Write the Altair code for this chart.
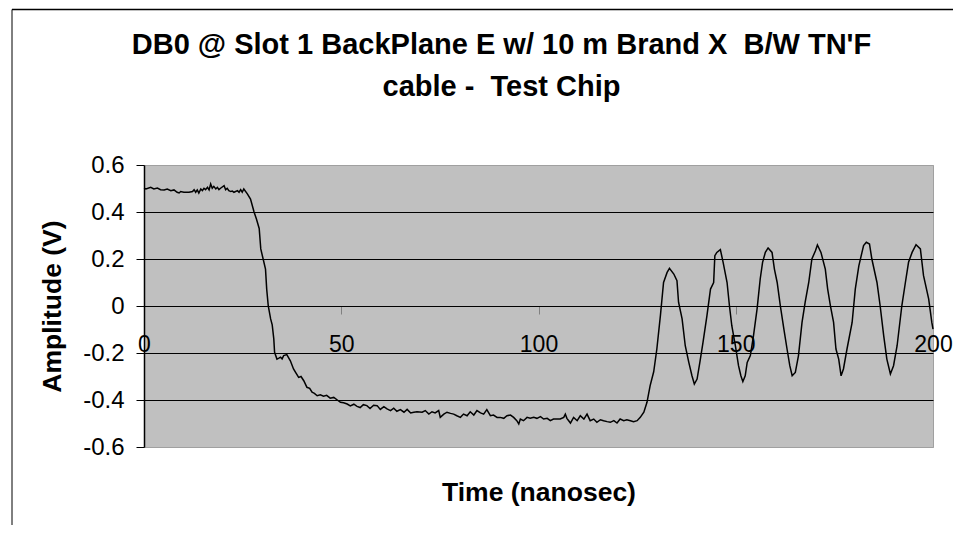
import altair as alt
import pandas as pd

# Time (ns) and amplitude (V)
time_ns = [
    0, 0.5, 1.7, 2.5, 3.4, 4.2, 5.1, 5.9, 6.8, 7.6, 8.4, 8.9, 9.3, 10.1, 11.4, 12.3, 12.7,
    13.1, 13.5, 13.9, 14.4, 14.8, 15.2, 15.6, 16.1, 16.5, 16.9, 17.3, 17.7, 18.2, 18.6,
    19.0, 19.4, 20.3, 20.7, 21.1, 21.5, 22.0, 22.4, 22.8, 23.7, 24.1, 24.5, 24.9, 25.3,
    26.2, 27.0, 27.9, 28.5, 29.2, 29.6, 30.2, 30.8, 31.1, 31.5, 32.1, 32.5, 32.9, 33.1,
    33.7, 34.2, 34.6, 35.0, 35.4, 36.2, 37.1, 37.9, 38.5, 39.2, 39.8, 40.5, 41.3, 42.0,
    42.6, 43.2, 43.9, 44.7, 45.5, 46.3, 47.2, 48.1, 49.0, 49.8, 50.6, 51.5, 52.3, 53.2,
    54.0, 54.8, 55.6, 56.5, 57.3, 58.2, 59.1, 59.9, 60.8, 61.6, 62.5, 63.3, 64.1, 65.0,
    65.9, 66.7, 67.6, 68.4,
    69.2, 70.5, 71.3, 72.2, 73.0, 73.8, 74.7, 75.1, 76.0, 76.8, 77.7, 78.5, 79.3, 80.2,
    81.0, 81.9, 82.7, 83.6, 84.4, 85.3, 86.1, 86.9, 87.8, 88.6, 89.5, 90.3, 91.2, 92.0,
    92.9, 93.7, 94.5, 95.0, 95.4, 96.2, 97.1, 97.9, 98.8, 99.6, 100.5, 101.3, 102.2,
    103.0, 103.8, 104.7, 105.5, 106.4, 106.8, 107.2, 108.1, 108.9, 109.8, 110.6, 111.5,
    112.3, 113.1, 114.0, 114.8, 115.7, 116.5, 117.4, 118.2, 119.1, 119.9, 120.7, 121.6,
    122.4, 123.3, 124.1, 125.0, 125.8, 126.7, 127.5, 128.3,
    129.2, 130.0, 130.9, 131.3, 131.7, 132.6, 133.2, 134.3, 135.1, 135.5, 136.4, 137.2,
    138.1, 138.9, 139.5, 140.2, 140.9, 141.7, 142.7, 143.6, 144.4, 144.7, 145.2, 146.1,
    146.8, 147.8, 148.4, 149.0, 149.9, 150.7, 151.3, 151.8, 152.4, 152.9, 153.7, 154.5,
    155.4, 156.2, 156.8, 157.5, 158.2, 159.2, 159.8, 160.5, 161.3, 162.2, 163.0, 163.7,
    164.3, 165.1, 165.9, 166.8, 167.6, 168.5, 169.3, 170.2, 170.7, 171.6, 172.7, 173.3,
    174.0, 174.8, 175.4, 176.1, 176.7, 177.3, 178.2, 179.5, 180.3, 181.2, 182.4, 183.1,
    183.9, 184.5, 185.8, 186.6, 187.5, 188.3, 189.2, 190.0, 190.9, 192.1, 193.0, 193.8,
    194.7, 195.7, 196.8, 197.6, 198.9, 199.7, 200.0,
]

amplitude_v = [
    0.501, 0.498, 0.505, 0.498, 0.502, 0.495, 0.494, 0.498, 0.491, 0.494, 0.484, 0.481,
    0.487, 0.484, 0.484, 0.487, 0.495, 0.484, 0.494, 0.481, 0.498, 0.491, 0.501, 0.495,
    0.505, 0.494, 0.519, 0.501, 0.509, 0.498, 0.505, 0.495, 0.501, 0.512, 0.495, 0.501,
    0.491, 0.487, 0.489, 0.484, 0.491, 0.484, 0.495, 0.484, 0.498,
    0.477, 0.455, 0.400, 0.370, 0.330, 0.243, 0.200, 0.157, 0.072, 0.000, -0.055, -0.080,
    -0.140, -0.197, -0.226, -0.222, -0.218, -0.225, -0.211, -0.207, -0.233, -0.268,
    -0.285, -0.304, -0.300, -0.318, -0.346, -0.350, -0.367, -0.372, -0.382, -0.378,
    -0.384, -0.380, -0.392, -0.389, -0.400, -0.410, -0.412, -0.417, -0.425, -0.418,
    -0.427, -0.432, -0.420, -0.424, -0.436, -0.422, -0.424, -0.440, -0.428, -0.438,
    -0.445, -0.435, -0.448, -0.441, -0.452, -0.440, -0.455, -0.452,
    -0.450, -0.452, -0.445, -0.460, -0.450, -0.455, -0.445, -0.474, -0.460, -0.452,
    -0.457, -0.460, -0.467, -0.474, -0.460, -0.467, -0.450, -0.464, -0.445, -0.455,
    -0.460, -0.441, -0.467, -0.464, -0.474, -0.474, -0.478, -0.467, -0.464, -0.474,
    -0.488, -0.502, -0.481, -0.488, -0.474, -0.478, -0.474, -0.478, -0.471, -0.481,
    -0.478, -0.488, -0.481, -0.481, -0.481, -0.474, -0.460, -0.478, -0.498, -0.474,
    -0.488, -0.467, -0.481, -0.460, -0.488, -0.481, -0.495, -0.484, -0.488, -0.492,
    -0.495, -0.488, -0.498, -0.481, -0.488, -0.484, -0.488, -0.492, -0.488, -0.474,
    -0.452, -0.410, -0.339,
    -0.280, -0.183, -0.041, 0.030, 0.100, 0.143, 0.160, 0.136, 0.108, 0.016, -0.055,
    -0.169, -0.240, -0.297, -0.332, -0.311, -0.240, -0.155, -0.041, 0.072, 0.100, 0.214,
    0.228, 0.240, 0.186, 0.100, 0.001, -0.084, -0.169, -0.254, -0.297, -0.322, -0.297,
    -0.240, -0.211, -0.126, -0.013, 0.115, 0.186, 0.228, 0.247, 0.228, 0.157, 0.100,
    0.001, -0.098, -0.183, -0.254, -0.297, -0.283, -0.211, -0.070, 0.016, 0.100, 0.200,
    0.235, 0.260, 0.228, 0.157, 0.072, 0.001, -0.070, -0.183, -0.226, -0.297, -0.268,
    -0.183, -0.070, 0.072, 0.171, 0.257, 0.271, 0.264, 0.200, 0.100, 0.001, -0.126,
    -0.226, -0.289, -0.254, -0.169, 0.001, 0.100, 0.186, 0.228, 0.261, 0.243, 0.129,
    0.030, -0.070, -0.098,
]

y_ticks = [-0.6, -0.4, -0.2, 0, 0.2, 0.4, 0.6]
x_ticks = [0, 50, 100, 150, 200]
title_lines = [
    "DB0 @ Slot 1 BackPlane E w/ 10 m Brand X\u00a0 B/W TN'F",
    "cable -\u00a0 Test Chip",
]

FONT = "Liberation Sans"

df = pd.DataFrame({"t": time_ns, "v": amplitude_v})

x_enc = alt.X(
    "t:Q",
    scale=alt.Scale(domain=[0, 200], nice=False),
    axis=alt.Axis(
        values=x_ticks,
        orient="bottom",
        offset=-141,
        grid=False,
        domainColor="black",
        domainWidth=1,
        tickColor="#808080",
        tickSize=8,
        labelFontSize=23,
        labelFont=FONT,
        labelColor="black",
        labelPadding=19,
        labelFlush=False,
        title="Time (nanosec)",
        titleFont=FONT,
        titleFontSize=26.5,
        titleFontWeight="bold",
        titleColor="black",
        titleBaseline="alphabetic",
        titleY=194,
    ),
)

y_enc = alt.Y(
    "v:Q",
    scale=alt.Scale(domain=[-0.6, 0.6], nice=False),
    axis=alt.Axis(
        values=y_ticks,
        labelExpr="datum.value == 0 ? '0' : toString(round(datum.value * 10) / 10)",
        grid=True,
        gridColor={"condition": {"test": "abs(datum.value) > 0.5", "value": "#A0A0A0"}, "value": "black"},
        gridWidth=1,
        domainColor="black",
        domainWidth=1.5,
        tickColor="black",
        tickSize=8,
        labelFontSize=24,
        labelFont=FONT,
        labelColor="black",
        labelPadding=12,
        title="Amplitude (V)",
        titleFont=FONT,
        titleFontSize=26.5,
        titleFontWeight="bold",
        titleColor="black",
        titlePadding=16,
    ),
)

line = alt.Chart(df).mark_line(color="black", strokeWidth=1.5).encode(x=x_enc, y=y_enc)

# outer chart frame (top and left edges; right/bottom lie outside the picture)
frame_src = pd.DataFrame({"k": [0]})
frame_top = alt.Chart(frame_src).mark_rule(color="black", strokeWidth=1.5).encode(
    x=alt.value(-132), x2=alt.value(809), y=alt.value(-155.5)
)
frame_left = alt.Chart(frame_src).mark_rule(color="black", strokeWidth=1).encode(
    x=alt.value(-132), y=alt.value(-155.5), y2=alt.value(360)
)

chart = alt.layer(line, frame_top, frame_left).properties(
    width=789,
    height=282,
    autosize=alt.AutoSizeParams(type="none"),
    padding={"left": 136, "top": 157, "right": 20, "bottom": 78},
    title=alt.Title(
        text=title_lines,
        font=FONT,
        fontSize=29,
        fontWeight="bold",
        color="black",
        lineHeight=42,
        anchor="middle",
        frame="group",
        baseline="bottom",
        offset=0,
        dx=-37,
        dy=122.5,
    ),
    background="white",
).configure_view(
    fill="#C0C0C0", stroke="#A0A0A0", strokeWidth=1
)

chart.save("out.html", embed_options={"renderer": "svg", "actions": False})
